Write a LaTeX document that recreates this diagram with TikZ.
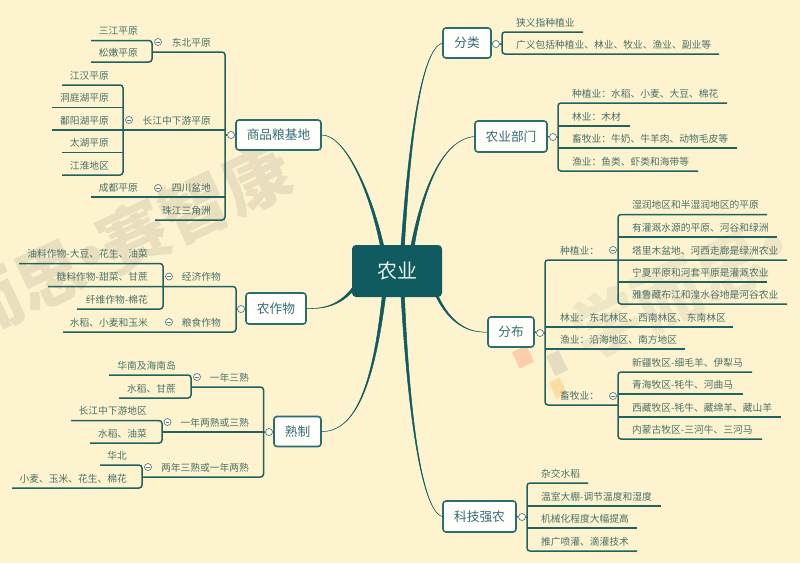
\documentclass[tikz,border=0pt]{standalone}
\usepackage{fontspec}
\setmainfont{Noto Sans CJK SC}
\usetikzlibrary{calc}
\definecolor{bgc}{HTML}{FDF4CF}
\definecolor{tealc}{HTML}{105B5F}
\definecolor{linec}{HTML}{20625F}
\definecolor{boxc}{HTML}{2A6E70}
\definecolor{txtc}{HTML}{4A6F6A}
\definecolor{boxt}{HTML}{336D73}
\definecolor{wma}{HTML}{E9DFBE}
\definecolor{wmb}{HTML}{EFE6C6}
\tikzset{
  x=1pt,y=-1pt,
  ln/.style={draw=linec,line width=1.5pt},
  tr/.style={ln,rounded corners=3pt},
  txt/.style={text=txtc,font=\fontsize{9.75pt}{11pt}\selectfont,inner sep=0pt},
  mainbox/.style={draw=boxc,line width=1.6pt,fill=white!92!bgc,rounded corners=3pt,text=boxt,inner sep=0pt,
    font=\fontsize{12.7pt}{14pt}\selectfont},
  rootbox/.style={fill=tealc,rounded corners=4pt,text=white!90!tealc,inner sep=0pt,
    minimum width=90pt,minimum height=52pt,font=\fontsize{20pt}{22pt}\selectfont},
  dotc/.style={circle,draw=gray!60!boxc,line width=.7pt,fill=white!70!bgc,minimum size=7pt,inner sep=0pt},
  dotm/.style={dotc,path picture={\draw[gray!60!boxc,line width=.5pt]
     ($(path picture bounding box.center)+(-1.8pt,0)$) -- ($(path picture bounding box.center)+(1.8pt,0)$);}},
  wm/.style={font=\fontsize{68pt}{72pt}\selectfont\bfseries,rotate=25,inner sep=0pt},
}
% name, text x, line y, end x, trunk x, text  (text left aligned)
\newcommand\lfR[6]{\node[txt,anchor=west] (#1) at (#2,#3-9.5) {#6};
  \coordinate (#1-a) at (#5,#3); \coordinate (#1-b) at (#4,#3);}
% name, text right x, line y, end x, trunk x, text (text right aligned)
\newcommand\lfL[6]{\node[txt,anchor=east] (#1) at (#2,#3-9.5) {#6};
  \coordinate (#1-a) at (#5,#3); \coordinate (#1-b) at (#4,#3);}
\newcommand\trunk[2]{\draw[tr] (#1-b) -- (#1-a) -- (#2-a) -- (#2-b);}
\newcommand\midl[1]{\draw[ln] (#1-a) -- (#1-b);}
% start, c1, c2, end, offset vector
\newcommand\taper[5]{\fill[tealc,draw=tealc,line width=.5pt]
  ($(#1)-(#5)$) .. controls ($(#2)-.5*(#5)$) and (#3) .. (#4)
  .. controls (#3) and ($(#2)+.5*(#5)$) .. ($(#1)+(#5)$) -- cycle;}
\begin{document}
\begin{tikzpicture}
\useasboundingbox (0,0) rectangle (800,563);
\clip (0,0) rectangle (800,563);
\fill[bgc] (0,0) rectangle (800,563);
% watermarks
\node[wm,text=wma] (wmL) at (122,241) {而思\kern-22pt·\kern-22pt赛智康};
\node[wm,text=wmb] (wmR) at (690,285) {学而思\kern-20pt·};
\fill[rotate around={25:(523,357)},fill=red!16!bgc] (515,348) rectangle (531,366);
\fill[rotate around={25:(557,363)},fill=gray!20!bgc] (550,352) rectangle (564,374);
\fill[rotate around={25:(558,388)},fill=orange!20!bgc] (552,379) rectangle (564,397);

% root and main boxes
\node[rootbox] (root) at (397,271) {农业};
\node[mainbox,minimum width=85pt,minimum height=30pt] (grain) at (278.5,135) {商品粮基地};
\node[mainbox,minimum width=60pt,minimum height=31pt] (crop) at (276,308.5) {农作物};
\node[mainbox,minimum width=47pt,minimum height=30pt] (ripe) at (297.5,431.5) {熟制};
\node[mainbox,minimum width=48pt,minimum height=30pt] (cls) at (467,43) {分类};
\node[mainbox,minimum width=72pt,minimum height=31pt] (dept) at (511,136.5) {农业部门};
\node[mainbox,minimum width=46pt,minimum height=30pt] (dist) at (511,332) {分布};
\node[mainbox,minimum width=73pt,minimum height=31pt] (tech) at (479.5,516.5) {科技强农};

% curved connectors
\coordinate (s1) at ($(root.north west)+(51,0)$);
\coordinate (s2) at ($(root.north west)+(61,0)$);
\coordinate (s3) at ($(root.north west)+(30,0)$);
\coordinate (s4) at ($(root.south west)+(32,0)$);
\coordinate (s5) at ($(root.south west)+(51,0)$);
\coordinate (s6) at ($(root.south west)+(2,-9)$);
\coordinate (s7) at ($(root.south east)+(-6,-3)$);
\taper{s1}{409,150}{420,50}{cls.west}{1.7,0}
\taper{s2}{422,195}{440,140}{dept.west}{1.7,0}
\taper{s3}{370,190}{345,135}{grain.east}{1.7,0}
\taper{s4}{375,370}{360,432}{ripe.east}{1.7,0}
\taper{s5}{408,400}{420,510}{tech.west}{1.7,0}
\taper{s6}{340,305}{325,309}{crop.east}{1,1}
\taper{s7}{450,325}{470,333}{dist.west}{1,-.6}

% ===== 商品粮基地 =====
\lfL{dongbei}{211}{52}{153}{225}{东北平原}
\lfL{changjiang}{211}{130}{52}{225}{长江中下游平原}
\lfL{sichuan}{211}{197}{91}{225}{四川盆地}
\lfL{zhujiang}{211}{220}{155}{225}{珠江三角洲}
\trunk{dongbei}{zhujiang}
\midl{changjiang}\midl{sichuan}
\coordinate (h1) at (225,135);
\node[dotc] (d1) at (231,135) {};
\draw[ln] (grain.west) -- (d1) -- (h1);
\lfL{sanjiang}{138}{40.5}{91}{152}{三江平原}
\lfL{songnen}{138}{62}{91}{152}{松嫩平原}
\trunk{sanjiang}{songnen}
\node[dotm] (d1a) at (158,42) {};
\lfL{jianghan}{109}{85}{62}{123}{江汉平原}
\lfL{dongting}{109}{107.5}{52}{123}{洞庭湖平原}
\lfL{poyang}{109}{130}{52}{123}{鄱阳湖平原}
\lfL{taihu}{109}{152.5}{62}{123}{太湖平原}
\lfL{jianghuai}{109}{175}{62}{123}{江淮地区}
\trunk{jianghan}{jianghuai}
\midl{dongting}\midl{taihu}
\node[dotm] (d1b) at (129,120) {};
\lfL{chengdu}{138}{197}{91}{152}{成都平原}
\node[dotm] (d1c) at (158,188) {};

% ===== 农作物 =====
\lfL{jingji}{221}{286.5}{48}{236}{经济作物}
\lfL{liangshi}{221}{332}{63}{236}{粮食作物}
\trunk{jingji}{liangshi}
\coordinate (h2) at (236,309);
\node[dotc] (d2) at (241,309) {};
\draw[ln] (crop.west) -- (d2) -- (h2);
\lfL{youliao}{148}{263.5}{19}{163}{油料作物-大豆、花生、油菜}
\lfL{tangliao}{148}{286.5}{48}{163}{糖料作物-甜菜、甘蔗}
\lfL{xianwei}{148}{309}{77}{163}{纤维作物-棉花}
\trunk{youliao}{xianwei}
\node[dotm] (d2a) at (169,276.5) {};
\lfL{shuidao}{148}{332}{63}{163}{水稻、小麦和玉米}
\node[dotm] (d2b) at (169,322) {};

% ===== 熟制 =====
\lfL{yn3}{249}{387}{191}{263.5}{一年三熟}
\lfL{yn23}{249}{432}{162}{263.5}{一年两熟或三熟}
\lfL{ln3}{249}{477}{142}{263.5}{两年三熟或一年两熟}
\trunk{yn3}{ln3}
\midl{yn23}
\node[dotc] (d3) at (269,432) {};
\draw[ln] (ripe.west) -- (d3) -- (yn23-a);
\lfL{huanan}{176}{375}{109}{191}{华南及海南岛}
\lfL{shuigan}{176}{398}{119}{191}{水稻、甘蔗}
\trunk{huanan}{shuigan}
\node[dotm] (d3a) at (197,377) {};
\lfL{cjzx}{147}{420.5}{71}{162}{长江中下游地区}
\lfL{shuiyou}{147}{443}{90}{162}{水稻、油菜}
\trunk{cjzx}{shuiyou}
\node[dotm] (d3b) at (167.5,422) {};
\lfL{huabei}{127}{465}{100}{142}{华北}
\lfL{xiaomai}{127}{488}{12}{142}{小麦、玉米、花生、棉花}
\trunk{huabei}{xiaomai}
\node[dotm] (d3c) at (148,467) {};

% ===== 分类 =====
\lfR{xiayi}{516}{32}{583}{502}{狭义指种植业}
\lfR{guangyi}{516}{54}{719}{502}{广义包括种植业、林业、牧业、渔业、副业等}
\trunk{xiayi}{guangyi}
\coordinate (h4) at (502,44);
\node[dotc] (d4) at (496,44) {};
\draw[ln] (cls.east) -- (d4) -- (h4);

% ===== 农业部门 =====
\lfR{bz}{572}{103}{727}{558}{种植业：水稻、小麦、大豆、棉花}
\lfR{bl}{572}{126}{630}{558}{林业：木材}
\lfR{bx}{572}{148}{737}{558}{畜牧业：牛奶、牛羊肉、动物毛皮等}
\lfR{by}{572}{171}{698}{558}{渔业：鱼类、虾类和海带等}
\trunk{bz}{by}
\midl{bl}\midl{bx}
\coordinate (h5) at (558,137);
\node[dotc] (d5) at (553,137) {};
\draw[ln] (dept.east) -- (d5) -- (h5);

% ===== 分布 =====
\lfR{fz}{560}{260}{787}{545}{种植业：}
\lfR{fl}{560}{327}{733}{545}{林业：东北林区、西南林区、东南林区}
\lfR{fy}{560}{349}{685}{545}{渔业：沿海地区、南方地区}
\lfR{fx}{560}{405}{618}{545}{畜牧业：}
\trunk{fz}{fx}
\midl{fl}\midl{fy}
\coordinate (h6) at (545,333);
\node[dotc] (d6) at (540,333) {};
\draw[ln] (dist.east) -- (d6) -- (h6);
\lfR{z1}{632}{214.5}{767}{618}{湿润地区和半湿润地区的平原}
\lfR{z2}{632}{237}{777}{618}{有灌溉水源的平原、河谷和绿洲}
\lfR{z3}{632}{260}{787}{618}{塔里木盆地、河西走廊是绿洲农业}
\lfR{z4}{632}{282}{767}{618}{宁夏平原和河套平原是灌溉农业}
\lfR{z5}{632}{304}{787}{618}{雅鲁藏布江和湟水谷地是河谷农业}
\trunk{z1}{z5}
\midl{z2}\midl{z4}
\node[dotm] (d6a) at (613,250) {};
\lfR{m1}{632}{372}{752}{618}{新疆牧区-细毛羊、伊犁马}
\lfR{m2}{632}{394}{743}{618}{青海牧区-牦牛、河曲马}
\lfR{m3}{632}{417}{781}{618}{西藏牧区-牦牛、藏绵羊、藏山羊}
\lfR{m4}{632}{439}{762}{618}{内蒙古牧区-三河牛、三河马}
\trunk{m1}{m4}
\midl{m2}\midl{m3}
\node[dotm] (d6b) at (613,396) {};

% ===== 科技强农 =====
\lfR{k1}{541}{483}{588}{527}{杂交水稻}
\lfR{k2}{541}{506}{661}{527}{温室大棚-调节温度和湿度}
\lfR{k3}{541}{528}{637}{527}{机械化程度大幅提高}
\lfR{k4}{541}{551}{637}{527}{推广喷灌、滴灌技术}
\trunk{k1}{k4}
\midl{k2}\midl{k3}
\coordinate (h7) at (527,517);
\node[dotc] (d7) at (522,517) {};
\draw[ln] (tech.east) -- (d7) -- (h7);
\end{tikzpicture}
\end{document}
